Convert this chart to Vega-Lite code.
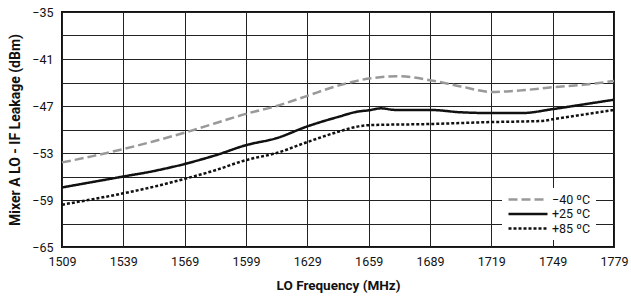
{
  "$schema": "https://vega.github.io/schema/vega-lite/v6.json",
  "autosize": {"type": "none"},
  "width": 552,
  "height": 235,
  "padding": {"left": 62, "top": 12, "right": 17, "bottom": 50},
  "background": "white",
  "config": {
    "view": {"stroke": "#111", "strokeWidth": 2},
    "font": "Roboto, sans-serif",
    "axis": {
      "labelFont": "Roboto, sans-serif",
      "titleFont": "Roboto, sans-serif",
      "labelFontSize": 12.5,
      "titleFontWeight": "bold",
      "labelColor": "#111",
      "titleColor": "#111",
      "grid": true,
      "gridColor": "#222",
      "gridWidth": 1,
      "gridOpacity": 1,
      "domain": false,
      "ticks": false
    },
    "legend": {
      "labelFont": "Roboto, sans-serif"
    }
  },
  "data": {
    "values": [
      {"f": 1509, "v": -54.2, "s": "−40 ºC"},
      {"f": 1524, "v": -53.4, "s": "−40 ºC"},
      {"f": 1539, "v": -52.5, "s": "−40 ºC"},
      {"f": 1554, "v": -51.5, "s": "−40 ºC"},
      {"f": 1569, "v": -50.4, "s": "−40 ºC"},
      {"f": 1584, "v": -49.2, "s": "−40 ºC"},
      {"f": 1599, "v": -48.0, "s": "−40 ºC"},
      {"f": 1614, "v": -47.0, "s": "−40 ºC"},
      {"f": 1629, "v": -45.7, "s": "−40 ºC"},
      {"f": 1644, "v": -44.4, "s": "−40 ºC"},
      {"f": 1659, "v": -43.5, "s": "−40 ºC"},
      {"f": 1674, "v": -43.2, "s": "−40 ºC"},
      {"f": 1689, "v": -43.7, "s": "−40 ºC"},
      {"f": 1704, "v": -44.5, "s": "−40 ºC"},
      {"f": 1719, "v": -45.2, "s": "−40 ºC"},
      {"f": 1734, "v": -45.0, "s": "−40 ºC"},
      {"f": 1749, "v": -44.6, "s": "−40 ºC"},
      {"f": 1764, "v": -44.3, "s": "−40 ºC"},
      {"f": 1779, "v": -43.8, "s": "−40 ºC"},

      {"f": 1509, "v": -57.4, "s": "+25 ºC"},
      {"f": 1524, "v": -56.7, "s": "+25 ºC"},
      {"f": 1539, "v": -56.0, "s": "+25 ºC"},
      {"f": 1554, "v": -55.3, "s": "+25 ºC"},
      {"f": 1569, "v": -54.4, "s": "+25 ºC"},
      {"f": 1584, "v": -53.3, "s": "+25 ºC"},
      {"f": 1599, "v": -52.0, "s": "+25 ºC"},
      {"f": 1614, "v": -51.1, "s": "+25 ºC"},
      {"f": 1629, "v": -49.6, "s": "+25 ºC"},
      {"f": 1644, "v": -48.4, "s": "+25 ºC"},
      {"f": 1654, "v": -47.7, "s": "+25 ºC"},
      {"f": 1659, "v": -47.55, "s": "+25 ºC"},
      {"f": 1665, "v": -47.3, "s": "+25 ºC"},
      {"f": 1672, "v": -47.5, "s": "+25 ºC"},
      {"f": 1689, "v": -47.5, "s": "+25 ºC"},
      {"f": 1704, "v": -47.8, "s": "+25 ºC"},
      {"f": 1719, "v": -47.9, "s": "+25 ºC"},
      {"f": 1734, "v": -47.9, "s": "+25 ºC"},
      {"f": 1749, "v": -47.4, "s": "+25 ºC"},
      {"f": 1764, "v": -46.8, "s": "+25 ºC"},
      {"f": 1779, "v": -46.2, "s": "+25 ºC"},

      {"f": 1509, "v": -59.6, "s": "+85 ºC"},
      {"f": 1524, "v": -58.9, "s": "+85 ºC"},
      {"f": 1539, "v": -58.15, "s": "+85 ºC"},
      {"f": 1554, "v": -57.3, "s": "+85 ºC"},
      {"f": 1569, "v": -56.3, "s": "+85 ºC"},
      {"f": 1584, "v": -55.2, "s": "+85 ºC"},
      {"f": 1599, "v": -53.9, "s": "+85 ºC"},
      {"f": 1614, "v": -53.0, "s": "+85 ºC"},
      {"f": 1629, "v": -51.6, "s": "+85 ºC"},
      {"f": 1644, "v": -50.3, "s": "+85 ºC"},
      {"f": 1654, "v": -49.6, "s": "+85 ºC"},
      {"f": 1659, "v": -49.45, "s": "+85 ºC"},
      {"f": 1689, "v": -49.3, "s": "+85 ºC"},
      {"f": 1719, "v": -49.05, "s": "+85 ºC"},
      {"f": 1744, "v": -48.9, "s": "+85 ºC"},
      {"f": 1749, "v": -48.7, "s": "+85 ºC"},
      {"f": 1764, "v": -48.1, "s": "+85 ºC"},
      {"f": 1779, "v": -47.5, "s": "+85 ºC"}
    ]
  },
  "mark": {"type": "line", "interpolate": "monotone", "strokeWidth": 2.5},
  "encoding": {
    "x": {
      "field": "f",
      "type": "quantitative",
      "scale": {"domain": [1509, 1779], "nice": false, "zero": false},
      "axis": {
        "grid": true,
        "values": [1509, 1539, 1569, 1599, 1629, 1659, 1689, 1719, 1749, 1779],
        "format": "d",
        "labelFlush": false,
        "title": "LO Frequency (MHz)",
        "titleFontSize": 13.5,
        "labelPadding": 8,
        "titlePadding": 11
      }
    },
    "y": {
      "field": "v",
      "type": "quantitative",
      "scale": {"domain": [-65, -35], "nice": false, "zero": false},
      "axis": {
        "grid": true,
        "values": [-65, -62, -59, -56, -53, -50, -47, -44, -41, -38, -35],
        "labelExpr": "(datum.value + 65) % 6 == 0 ? datum.label : ''",
        "labelFlush": false,
        "title": "Mixer A LO - IF Leakage (dBm)",
        "titleFontSize": 14,
        "labelPadding": 9,
        "titlePadding": 9
      }
    },
    "color": {
      "field": "s",
      "type": "nominal",
      "scale": {"domain": ["−40 ºC", "+25 ºC", "+85 ºC"], "range": ["#999999", "#111111", "#111111"]},
      "legend": {
        "title": null,
        "orient": "none",
        "legendX": 440,
        "legendY": 176,
        "fillColor": "white",
        "padding": 5,
        "symbolType": "stroke",
        "symbolSize": 1521,
        "symbolStrokeWidth": 2.5,
        "clipHeight": 13,
        "labelFontSize": 12.5,
        "labelColor": "#111",
        "rowPadding": 1.5,
        "labelOffset": 3
      }
    },
    "strokeDash": {
      "field": "s",
      "type": "nominal",
      "scale": {"domain": ["−40 ºC", "+25 ºC", "+85 ºC"], "range": [[9, 4], [1, 0], [3, 2]]},
      "legend": null
    }
  }
}
